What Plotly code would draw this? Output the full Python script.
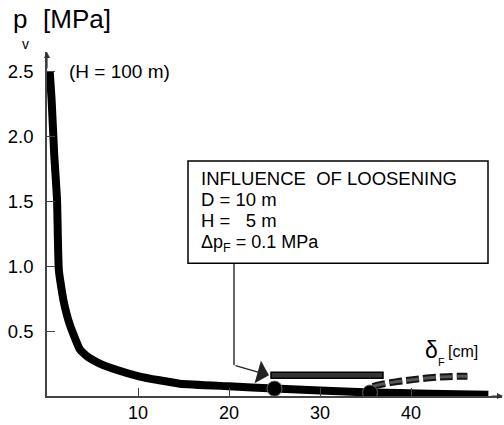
import plotly.graph_objects as go

# Main curve p_v vs delta_F
curve_x = [0.3, 0.5, 0.8, 1.1, 1.3, 1.8, 2.5, 3.6, 4.5, 5.8, 7.7, 10.2, 14.6, 20, 25, 30, 35.5, 42, 48.5]
curve_y = [2.5, 2.29, 1.85, 1.52, 0.97, 0.74, 0.55, 0.36, 0.30, 0.25, 0.20, 0.15, 0.095, 0.075, 0.057, 0.042, 0.027, 0.018, 0.01]

# Influence of loosening (dashed branch)
loose_x = [35.8, 36.6, 38.5, 40.2, 42.1, 44.0, 46.2]
loose_y = [0.073, 0.088, 0.111, 0.126, 0.141, 0.149, 0.153]

# Marked points
pts_x = [25, 35.5]
pts_y = [0.057, 0.027]

x_ticks = [10, 20, 30, 40]
y_ticks = [0.5, 1.0, 1.5, 2.0, 2.5]
y_tick_text = ["0.5", "1.0", "1.5", "2.0", "2.5"]

box_lines = ["INFLUENCE  OF LOOSENING", "D = 10 m", "H =   5 m", "\u0394p<sub>F</sub> = 0.1 MPa"]

FONT = "Liberation Sans, Arial, sans-serif"

# layout geometry (pixels)
W, H = 504, 425
ML, MR, MT, MB = 47, 2, 52, 26
PW, PH = W - ML - MR, H - MT - MB


def px(xp):
    return (xp - ML) / PW


def py(yp):
    return (H - MB - yp) / PH


def arrow(x0, y0, x1, y1, **kw):
    return dict(x=px(x1), y=py(y1), ax=px(x0), ay=py(y0),
                xref="x domain", yref="y domain", axref="x domain", ayref="y domain",
                showarrow=True, text="", **kw)


def label(x, y, text, size):
    return dict(x=px(x), y=py(y), xref="paper", yref="paper", xanchor="left", yanchor="middle",
                showarrow=False, text=text, font=dict(family=FONT, size=size, color="black"))


fig = go.Figure()
fig.add_trace(go.Scatter(x=curve_x, y=curve_y, mode="lines",
                         line=dict(color="black", width=8, shape="spline", smoothing=0.4),
                         hoverinfo="skip"))
fig.add_trace(go.Scatter(x=loose_x, y=loose_y, mode="lines",
                         line=dict(color="#111", width=7, dash="13px,4px", shape="spline"),
                         hoverinfo="skip"))
fig.add_trace(go.Scatter(x=loose_x, y=loose_y, mode="lines",
                         line=dict(color="#555", width=3, dash="13px,4px", shape="spline"),
                         hoverinfo="skip"))
fig.add_trace(go.Scatter(x=pts_x, y=pts_y, mode="markers",
                         marker=dict(color="black", size=15, line=dict(color="#666", width=1)),
                         hoverinfo="skip"))

shapes = [
    # text box
    dict(type="rect", xref="paper", yref="paper", x0=px(188), x1=px(488), y0=py(265), y1=py(162),
         line=dict(color="black", width=1.5), fillcolor="white", layer="above"),
    # leader vertical
    dict(type="line", xref="paper", yref="paper", x0=px(234), x1=px(234), y0=py(265), y1=py(368),
         line=dict(color="black", width=1.2)),
    # horizontal bar
    dict(type="rect", xref="paper", yref="paper", x0=px(271), x1=px(383), y0=py(381), y1=py(375),
         line=dict(color="black", width=1.5), fillcolor="#333", layer="above"),
]

annotations = [
    arrow(234, 368, 269, 378, arrowhead=1, arrowsize=3, arrowwidth=1.3, arrowcolor="#222"),
    # y axis arrow
    arrow(47, 70, 47, 52, arrowhead=2, arrowsize=1, arrowwidth=1.2, arrowcolor="#333"),
    # x axis arrow
    arrow(490, 399, 503, 399, arrowhead=2, arrowsize=1, arrowwidth=1.2, arrowcolor="#333"),
    label(67, 72, "(H = 100 m)", 19),
    # axis title p_v [MPa]
    label(11, 19, "p", 26),
    label(20, 44, "v", 14),
    label(41, 19, "[MPa]", 26),
    # delta_F [cm]
    label(423, 353, "\u03b4", 23),
    label(436, 365, "F", 11),
    label(446, 354, "[cm]", 16),
]

line_centers = [180, 201, 222, 245]
line_sizes = [18.5, 18.5, 18.5, 18]
for txt, yc, fs in zip(box_lines, line_centers, line_sizes):
    annotations.append(label(199, yc, txt, fs))

fig.update_layout(
    width=W, height=H,
    margin=dict(l=ML, r=MR, t=MT, b=MB),
    paper_bgcolor="white", plot_bgcolor="white",
    showlegend=False,
    shapes=shapes, annotations=annotations,
    xaxis=dict(range=[0, 50], showgrid=False, zeroline=False, showline=True,
               linecolor="#444", linewidth=1.5, ticks="inside", ticklen=8, tickwidth=1.2,
               tickcolor="#444", tickvals=x_ticks, ticktext=[str(v) for v in x_ticks],
               tickfont=dict(family=FONT, size=18, color="black")),
    yaxis=dict(range=[0, 2.65], showgrid=False, zeroline=False, showline=True,
               linecolor="#444", linewidth=1.5, ticks="inside", ticklen=8, tickwidth=1.2,
               tickcolor="#444", tickvals=y_ticks, ticktext=y_tick_text, ticklabelstandoff=8,
               tickfont=dict(family=FONT, size=18.5, color="black")),
)

fig.write_html("out.html")
